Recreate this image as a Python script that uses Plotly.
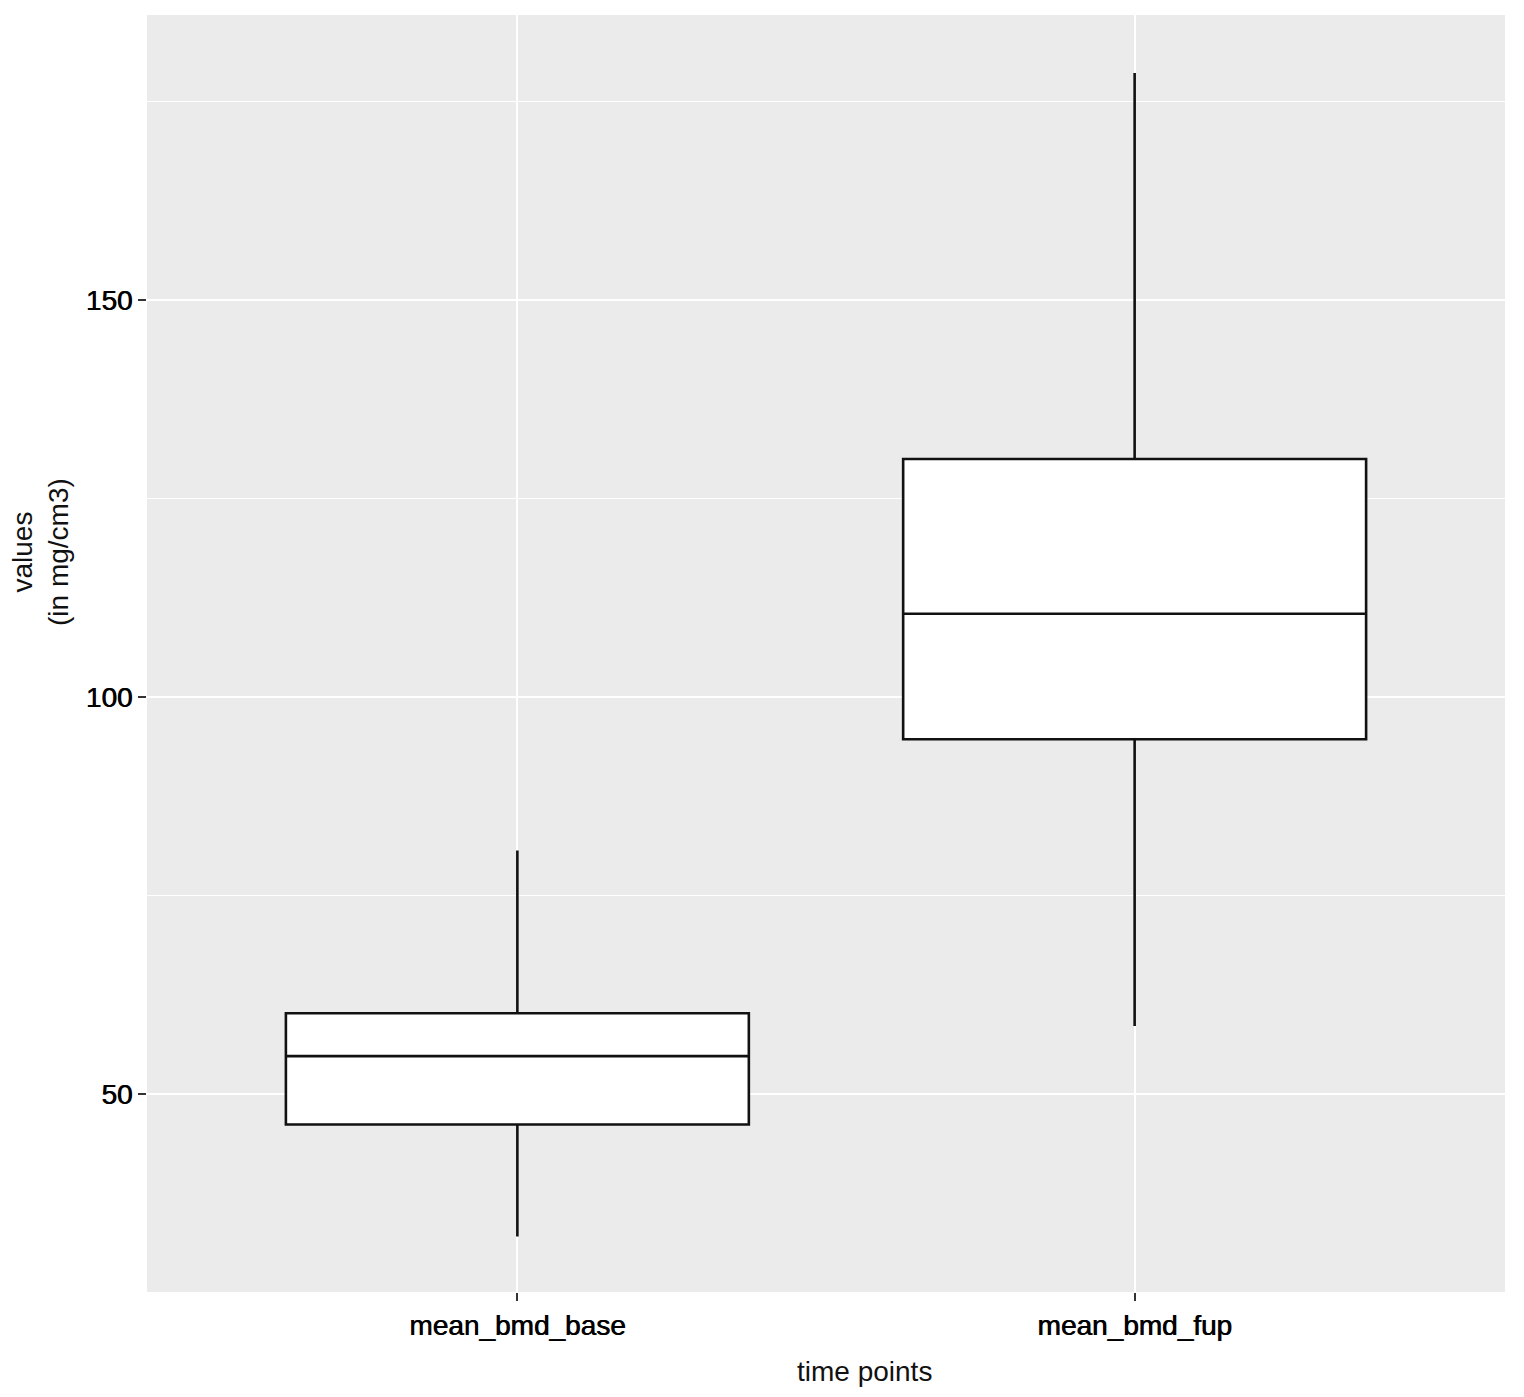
import plotly.graph_objects as go

categories = ["mean_bmd_base", "mean_bmd_fup"]
lower_whisker = [32.1, 58.6]
q1_values = [46.2, 94.7]
median_values = [54.8, 110.5]
q3_values = [60.2, 130.0]
upper_whisker = [80.7, 178.6]

x_title = "time points"
y_title = "values<br>(in mg/cm3)"

fig = go.Figure()
fig.add_trace(go.Box(
    x=categories,
    lowerfence=lower_whisker,
    q1=q1_values,
    median=median_values,
    q3=q3_values,
    upperfence=upper_whisker,
    width=0.75,
    whiskerwidth=0,
    fillcolor="white",
    line=dict(color="#111111", width=2.6),
    boxpoints=False,
    showlegend=False,
))

font_family = "Liberation Sans, Arial, sans-serif"
tick_font = dict(size=28, color="#000000", shadow="0.7px 0 0 #000000")
fig.update_layout(
    width=1508, height=1381,
    margin=dict(l=139, r=11, t=7, b=97),
    paper_bgcolor="white",
    plot_bgcolor="#ebebeb",
    font=dict(family=font_family, color="#111111", size=28),
    xaxis=dict(
        type="category",
        range=[-0.6, 1.6],
        showgrid=True, gridcolor="white", gridwidth=2,
        ticks="outside", ticklen=8, tickwidth=2, tickcolor="#333333",
        tickfont=tick_font,
        zeroline=False, showline=False,
    ),
    yaxis=dict(
        range=[25.1, 185.9],
        tickvals=[50, 100, 150],
        showgrid=True, gridcolor="white", gridwidth=2,
        minor=dict(tickvals=[75, 125, 175], showgrid=True, gridcolor="white", gridwidth=1, ticks=""),
        ticks="outside", ticklen=8, tickwidth=2, tickcolor="#333333",
        tickfont=tick_font,
        zeroline=False, showline=False,
    ),
    annotations=[
        dict(text=x_title, xref="paper", yref="paper", x=0.5287, y=0,
             xanchor="center", yanchor="middle", yshift=-79, showarrow=False,
             font=dict(size=28, color="#111111")),
        dict(text=y_title, xref="paper", yref="paper", x=0, y=0.5795,
             xanchor="center", yanchor="middle", xshift=-106, textangle=-90,
             showarrow=False, font=dict(size=28, color="#111111")),
    ],
)

fig.write_html("out.html")
